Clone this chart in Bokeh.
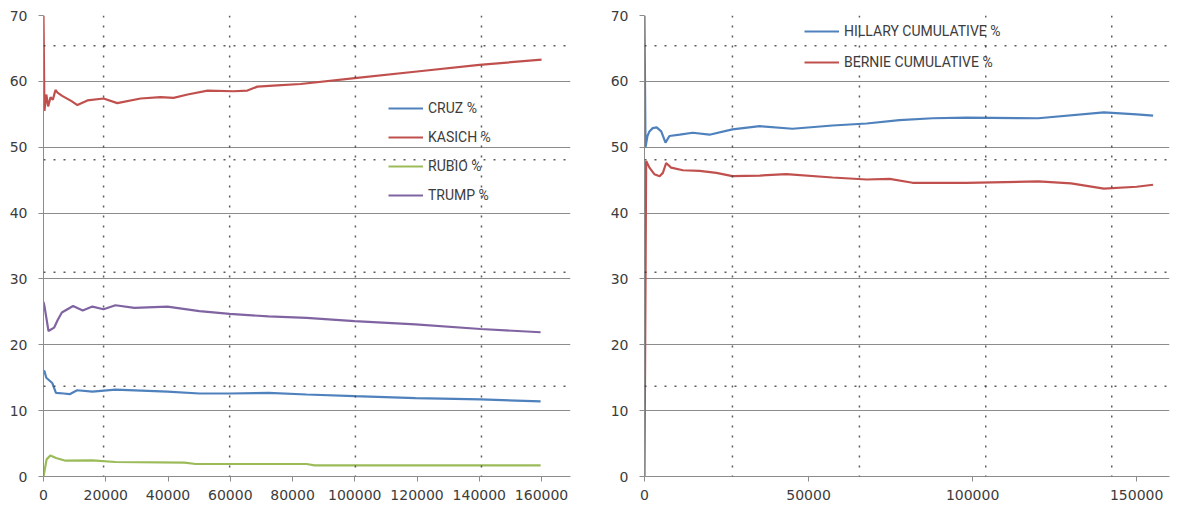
from bokeh.plotting import figure
from bokeh.layouts import row
from bokeh.models import Span, Legend, LegendItem, FixedTicker, Range1d, NumeralTickFormatter
from bokeh.embed import file_html
from bokeh.resources import INLINE

# ---------------- Left chart (Republican) ----------------
kasich_x = [0, 300, 900, 1500, 2250, 3000, 3850, 4500, 6000, 9000, 10900, 14100, 19300, 23700,
            31200, 37600, 41800, 46300, 52700, 61100, 65500, 68700, 75100, 82600, 100000,
            120000, 140000, 160000]
kasich_y = [70, 55.5, 58.0, 56.2, 57.6, 57.2, 58.7, 58.3, 57.8, 57.0, 56.4, 57.1, 57.4, 56.7,
            57.4, 57.6, 57.5, 58.0, 58.6, 58.5, 58.6, 59.2, 59.4, 59.6, 60.5,
            61.5, 62.5, 63.3]

trump_x = [0, 300, 1600, 3400, 4600, 5900, 9500, 12600, 15700, 19300, 23100, 29200, 39800,
           50100, 59800, 72300, 84500, 99900, 119500, 140400, 159700]
trump_y = [26.5, 25.9, 22.1, 22.6, 23.8, 24.9, 25.9, 25.2, 25.8, 25.4, 26.0, 25.6, 25.8,
           25.1, 24.7, 24.3, 24.1, 23.6, 23.1, 22.4, 21.9]

cruz_x = [0, 300, 900, 2800, 4000, 6500, 8400, 10800, 15700, 23100, 39800, 50100, 59800,
          72300, 84500, 99900, 119500, 140400, 159700]
cruz_y = [16.0, 16.0, 15.0, 14.2, 12.7, 12.6, 12.5, 13.1, 12.9, 13.2, 12.9, 12.6, 12.6,
          12.7, 12.45, 12.2, 11.9, 11.7, 11.4]

rubio_x = [0, 1000, 2200, 4000, 7100, 15700, 23100, 45300, 48900, 84500, 87100, 159700]
rubio_y = [0, 2.6, 3.2, 2.8, 2.4, 2.45, 2.2, 2.1, 1.9, 1.9, 1.7, 1.7]

left_x_ticks = [0, 20000, 40000, 60000, 80000, 100000, 120000, 140000, 160000]
y_ticks = [0, 10, 20, 30, 40, 50, 60, 70]

# ---------------- Right chart (Democratic) ----------------
hillary_x = [0, 300, 900, 1500, 2500, 3700, 5100, 6400, 7600, 10700, 14700, 19800, 26800,
             35100, 45100, 57300, 67700, 77700, 87800, 98100, 120000, 140000, 150000, 155000]
hillary_y = [70, 50.0, 51.7, 52.4, 52.9, 53.0, 52.4, 50.7, 51.7, 51.9, 52.2, 51.9, 52.7,
             53.2, 52.8, 53.3, 53.6, 54.1, 54.4, 54.5, 54.4, 55.3, 55.0, 54.8]

bernie_x = [0, 500, 1500, 3000, 4600, 5600, 6600, 8100, 11700, 16800, 21900, 26800, 35100,
            43200, 57300, 67700, 74700, 81700, 98100, 120000, 130000, 140000, 150000, 155000]
bernie_y = [0, 47.9, 46.9, 45.9, 45.6, 46.1, 47.6, 46.9, 46.5, 46.4, 46.1, 45.6, 45.7,
            45.9, 45.4, 45.1, 45.2, 44.6, 44.6, 44.8, 44.5, 43.7, 44.0, 44.3]

right_x_ticks = [0, 50000, 100000, 150000]

# page-break (dotted) overlay lines seen in the screenshot
left_break_x = [19300, 59800, 100200, 140700]
right_break_x = [26800, 65500, 104000, 142400]
break_y = [65.4, 48.1, 31.0, 13.7]

BLUE = "#4F81BD"
RED = "#C0504D"
GREEN = "#9BBB59"
PURPLE = "#8064A2"
GRID = "#8c8c8c"
TXT = "#3c3c3c"


def make_fig(xmax, xticks, left_border, frame_w, right_border):
    p = figure(frame_width=frame_w, frame_height=461, output_backend="svg",
               toolbar_location=None, x_range=Range1d(0, xmax), y_range=Range1d(0, 70),
               min_border_left=left_border, min_border_right=right_border,
               min_border_top=15, min_border_bottom=30)
    p.outline_line_color = None
    p.xgrid.visible = False
    p.ygrid.grid_line_color = GRID
    p.ygrid.grid_line_width = 1
    p.xaxis.ticker = FixedTicker(ticks=xticks)
    p.yaxis.ticker = FixedTicker(ticks=y_ticks)
    p.xaxis.formatter = NumeralTickFormatter(format="0")
    for ax in (p.xaxis, p.yaxis):
        ax.axis_line_color = GRID
        ax.major_tick_line_color = GRID
        ax.major_tick_out = 5
        ax.major_tick_in = 0
        ax.minor_tick_line_color = None
        ax.major_label_text_font = "DejaVu Sans"
        ax.major_label_text_font_size = "14px"
        ax.major_label_text_color = TXT
    p.yaxis.major_label_standoff = 11
    p.xaxis.major_label_standoff = 8
    for v in break_y:
        p.add_layout(Span(location=v, dimension="width", line_color="#333333",
                          line_width=1.5, line_dash="2 8", line_alpha=0.8))
    return p


p1 = make_fig(169300, left_x_ticks, 43, 527, 30)
r_cruz = p1.line(cruz_x, cruz_y, line_color=BLUE, line_width=2.2)
r_kas = p1.line(kasich_x, kasich_y, line_color=RED, line_width=2.2)
r_rub = p1.line(rubio_x, rubio_y, line_color=GREEN, line_width=2.2)
r_tru = p1.line(trump_x, trump_y, line_color=PURPLE, line_width=2.2)
for v in left_break_x:
    p1.add_layout(Span(location=v, dimension="height", line_color="#333333",
                       line_width=1.5, line_dash="2 8", line_alpha=0.8))

leg1 = Legend(items=[LegendItem(label="CRUZ %", renderers=[r_cruz]),
                     LegendItem(label="KASICH %", renderers=[r_kas]),
                     LegendItem(label="RUBIO %", renderers=[r_rub]),
                     LegendItem(label="TRUMP %", renderers=[r_tru])],
              location=(345, 271))
p2 = make_fig(160000, right_x_ticks, 44, 525, 18)
r_hil = p2.line(hillary_x, hillary_y, line_color=BLUE, line_width=2.2)
r_ber = p2.line(bernie_x, bernie_y, line_color=RED, line_width=2.2)
for v in right_break_x:
    p2.add_layout(Span(location=v, dimension="height", line_color="#333333",
                       line_width=1.5, line_dash="2 8", line_alpha=0.8))
leg2 = Legend(items=[LegendItem(label="HILLARY CUMULATIVE %", renderers=[r_hil]),
                     LegendItem(label="BERNIE CUMULATIVE %", renderers=[r_ber])],
              location=(160, 404))

for leg in (leg1, leg2):
    leg.label_text_font = "Roboto"
    leg.label_text_font_size = "14px"
    leg.label_text_color = TXT
    leg.glyph_width = 35
    leg.glyph_height = 20
    leg.label_height = 20
    leg.label_standoff = 5
    leg.padding = 0
    leg.margin = 0
    leg.border_line_alpha = 0
    leg.background_fill_alpha = 0
leg1.spacing = 9
leg2.spacing = 11
p1.add_layout(leg1)
p2.add_layout(leg2)

layout = row(p1, p2)
open("out.html", "w").write(file_html(layout, INLINE))
